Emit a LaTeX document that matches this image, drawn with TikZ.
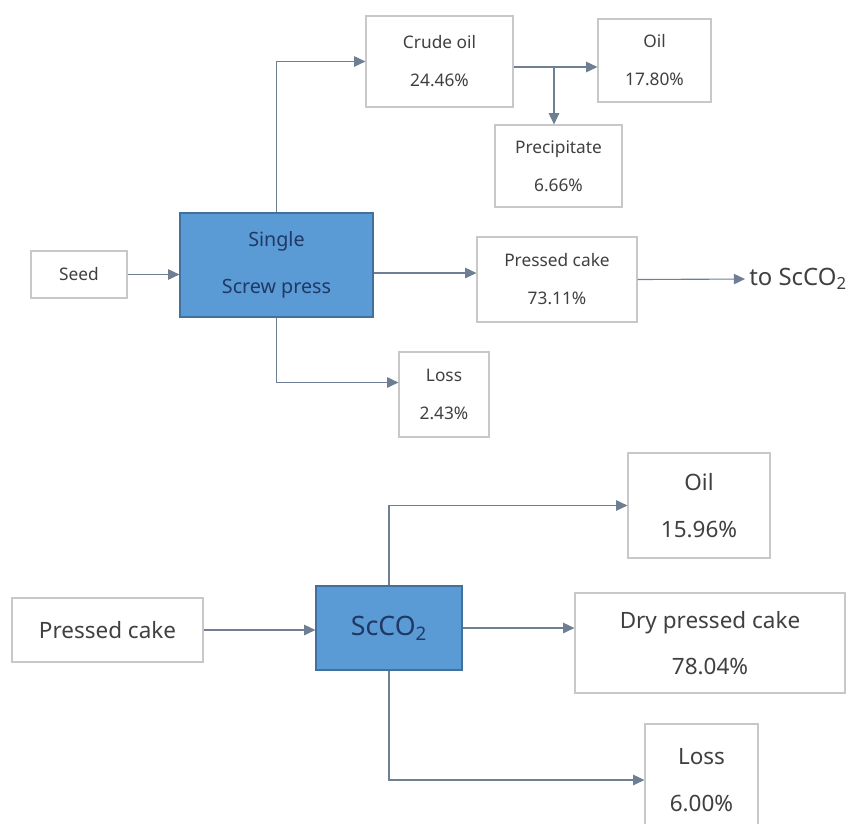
\documentclass[tikz,border=0pt]{standalone}
\usepackage{fontspec}
\setmainfont{Noto Sans}
\usetikzlibrary{arrows.meta, calc}

\definecolor{boxline}{RGB}{200,200,200}
\definecolor{pressblue}{RGB}{91,155,213}
\definecolor{pressline}{RGB}{65,113,156}
\definecolor{presstext}{RGB}{31,56,100}
\definecolor{flowline}{RGB}{110,127,148}
\definecolor{labeltext}{RGB}{64,64,64}

\begin{document}
\begin{tikzpicture}[
    x=0.025cm, y=-0.025cm,
    every node/.style={inner sep=0pt, align=center, text=labeltext},
    stream/.style={draw=boxline, fill=white, line width=0.8pt, font=\fontsize{12.3}{27}\selectfont},
    bigstream/.style={stream, font=\fontsize{16}{33}\selectfont},
    unit/.style={draw=pressline, fill=pressblue, line width=0.8pt, text=presstext},
    flow/.style={draw=flowline, line width=0.8pt, -{Triangle[length=2.8mm,width=2.6mm]}}
]
\useasboundingbox (0,0) rectangle (859,823);

% screw press stage
\node[stream, minimum width=2.4cm, minimum height=1.175cm] (seed) at (79,274.5) {Seed};
\node[unit, minimum width=4.825cm, minimum height=2.6cm, font=\fontsize{14}{33}\selectfont] (press) at (276.5,265) {Single\\Screw press};
\node[stream, minimum width=3.675cm, minimum height=2.275cm] (crude) at (439.5,61.5) {Crude oil\\24.46\%};
\node[stream, minimum width=2.825cm, minimum height=2.075cm] (oil) at (654.5,60.5) {Oil\\17.80\%};
\node[stream, minimum width=3.175cm, minimum height=2.05cm] (precip) at (558.5,166) {Precipitate\\6.66\%};
\node[stream, minimum width=4cm, minimum height=2.125cm] (pcake) at (557,279.5) {Pressed cake\\73.11\%};
\node[stream, minimum width=2.25cm, minimum height=2.125cm] (loss) at (444,394.5) {Loss\\2.43\%};
\node[anchor=west, font=\fontsize{17}{20}\selectfont] (tosc) at (749,279) {to ScCO\textsubscript{2}};

\coordinate (split) at (554,67);

\draw[flow] (seed.east) -- (seed.east -| press.west);
\draw[flow] (press.north) |- (crude.west);
\draw[flow] (crude.east |- split) -- (oil.west |- split);
\draw[flow] (split) -- (split |- precip.north);
\draw[flow] ([yshift=-0.2cm]press.east) -- ([yshift=-0.2cm]press.east -| pcake.west);
\draw[flow] (press.south) |- ([yshift=0.3cm]loss.west);
\draw[flow, shorten >=1mm] (pcake.east) -- (tosc.west);

% supercritical CO2 stage
\node[bigstream, minimum width=4.775cm, minimum height=1.6cm] (pcake2) at (107.5,630) {Pressed cake};
\node[unit, minimum width=3.65cm, minimum height=2.1cm, font=\fontsize{19}{22}\selectfont] (scco2) at (389,628) {ScCO\textsubscript{2}};
\node[bigstream, minimum width=3.55cm, minimum height=2.625cm] (oil2) at (699,505.5) {Oil\\15.96\%};
\node[bigstream, minimum width=6.75cm, minimum height=2.5cm] (dry) at (710,643) {Dry pressed cake\\78.04\%};
\node[bigstream, minimum width=2.825cm, minimum height=2.8cm] (loss2) at (701.5,780) {Loss\\6.00\%};

\draw[flow] (pcake2.east) -- (pcake2.east -| scco2.west);
\draw[flow] (scco2.north) |- (oil2.west);
\draw[flow] (scco2.east) -- (scco2.east -| dry.west);
\draw[flow] (scco2.south) |- (loss2.west);

\end{tikzpicture}
\end{document}
